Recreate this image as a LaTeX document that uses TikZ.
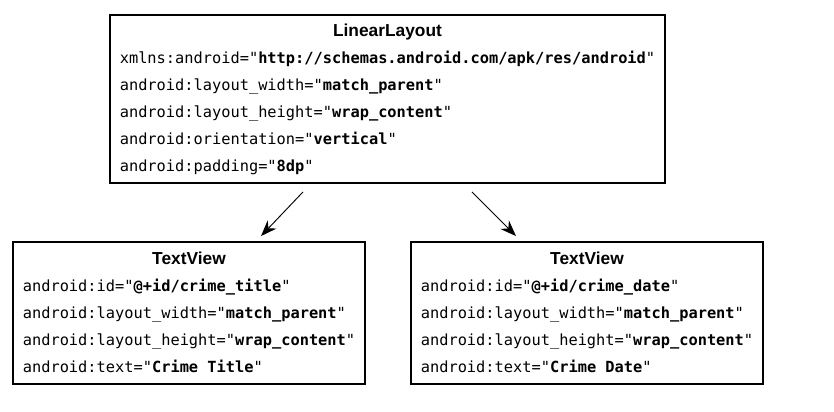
\documentclass[tikz,border=0pt]{standalone}
\usepackage{fontspec}
\setmonofont{DejaVu Sans Mono}
\newfontfamily\headfont{Liberation Sans}
\usepackage{tikz}
\usetikzlibrary{arrows.meta, positioning, calc}
\newcommand{\attr}[2]{\texttt{#1="\textbf{#2}"}}
\newcommand{\headline}[1]{\multicolumn{1}{@{}c@{}}{\headfont\fontsize{13pt}{20.25pt}\selectfont\bfseries #1}}
\tikzset{
  widget/.style={rectangle, draw=black, line width=1.4pt, fill=white,
    inner sep=0pt, font=\fontsize{11.5pt}{20.25pt}\selectfont},
  arrow/.style={-{Stealth[length=12pt, width=9pt]}, line width=0.7pt, color=black},
}
\begin{document}
\begin{tikzpicture}[x=0.75pt, y=-0.75pt]
  \useasboundingbox (0,0) rectangle (834,411);

  % Parent layout
  \node[widget, minimum width=416pt, minimum height=126pt] (layout) at (387.5,99)
    {\begin{tabular}{@{}l@{}}
      \headline{LinearLayout}\\
      \attr{xmlns:android}{http://schemas.android.com/apk/res/android}\\
      \attr{android:layout\_width}{match\_parent}\\
      \attr{android:layout\_height}{wrap\_content}\\
      \attr{android:orientation}{vertical}\\
      \attr{android:padding}{8dp}
    \end{tabular}};

  % Title view
  \node[widget, minimum width=264pt, minimum height=106.5pt] (title) at (189,313)
    {\begin{tabular}{@{}l@{}}
      \headline{TextView}\\
      \attr{android:id}{@+id/crime\_title}\\
      \attr{android:layout\_width}{match\_parent}\\
      \attr{android:layout\_height}{wrap\_content}\\
      \attr{android:text}{Crime Title}
    \end{tabular}};

  % Date view
  \node[widget, minimum width=264pt, minimum height=106.5pt] (date) at (587,313)
    {\begin{tabular}{@{}l@{}}
      \headline{TextView}\\
      \attr{android:id}{@+id/crime\_date}\\
      \attr{android:layout\_width}{match\_parent}\\
      \attr{android:layout\_height}{wrap\_content}\\
      \attr{android:text}{Crime Date}
    \end{tabular}};

  % Children
  \draw[arrow] ([shift={(-84.5,8)}]layout.south) -- ([shift={(72,-5)}]title.north);
  \draw[arrow] ([shift={(84.5,8)}]layout.south) -- ([shift={(-71,-5)}]date.north);

\end{tikzpicture}
\end{document}
